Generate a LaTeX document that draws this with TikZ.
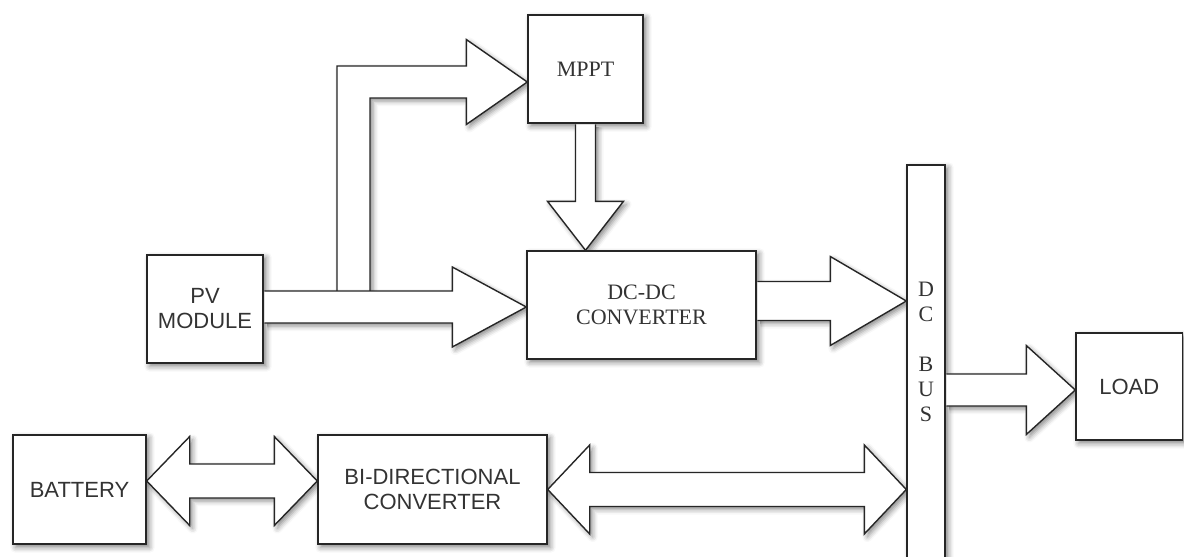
\documentclass[tikz,border=0pt]{standalone}
\usepackage{fontspec}
\setmainfont{Liberation Sans}
\newfontfamily\timesfont{Liberation Serif}
\usetikzlibrary{calc,backgrounds,shadows.blur}

\tikzset{
  soft shadow/.style={blur shadow={shadow xshift=1.5pt, shadow yshift=-1.5pt,
      shadow blur radius=2.5pt, shadow opacity=45}},
  box/.style={draw=black!85, line width=0.7pt, fill=white, text=black!80,
    font=\fontsize{11}{12.5}\selectfont, align=center, inner sep=0pt},
  timesbox/.style={font=\timesfont\fontsize{11}{12.5}\selectfont},
  fat/.style={draw=black!85, line width=0.7pt, fill=white, line join=miter, soft shadow},
  fat shaft/.store in=\fatshaft, fat shaft=8pt,
  fat wing/.store in=\fatwing, fat wing=22pt,
  fat head/.store in=\fathead, fat head=24pt,
  % hollow block arrows, open at the start end (kept clear of the box border)
  fat right/.style={to path={let \p1=(\tikztostart), \p2=(\tikztotarget) in
    ({\x1+0.35pt},{\y2+\fatshaft}) -- ({\x2-\fathead},{\y2+\fatshaft}) -- ({\x2-\fathead},{\y2+\fatwing})
    -- (\x2,\y2) -- ({\x2-\fathead},{\y2-\fatwing}) -- ({\x2-\fathead},{\y2-\fatshaft})
    -- ({\x1+0.35pt},{\y2-\fatshaft})}},
  fat down/.style={to path={let \p1=(\tikztostart), \p2=(\tikztotarget) in
    ({\x2-\fatshaft},{\y1-0.35pt}) -- ({\x2-\fatshaft},{\y2+\fathead}) -- ({\x2-\fatwing},{\y2+\fathead})
    -- (\x2,\y2) -- ({\x2+\fatwing},{\y2+\fathead}) -- ({\x2+\fatshaft},{\y2+\fathead})
    -- ({\x2+\fatshaft},{\y1-0.35pt})}},
  fat both/.style={to path={let \p1=(\tikztostart), \p2=(\tikztotarget) in
    (\x1,\y1) -- ({\x1+\fathead},{\y1+\fatwing}) -- ({\x1+\fathead},{\y1+\fatshaft})
    -- ({\x2-\fathead},{\y1+\fatshaft}) -- ({\x2-\fathead},{\y1+\fatwing}) -- (\x2,\y1)
    -- ({\x2-\fathead},{\y1-\fatwing}) -- ({\x2-\fathead},{\y1-\fatshaft})
    -- ({\x1+\fathead},{\y1-\fatshaft}) -- ({\x1+\fathead},{\y1-\fatwing}) -- cycle}},
}

\begin{document}
\begin{tikzpicture}[x=0.5pt, y=-0.5pt]
\useasboundingbox (0,0) rectangle (1184,557);

\node[box, timesbox, minimum width=57.5pt, minimum height=54pt] (mppt) at (585.5,69) {MPPT};
\node[box, minimum width=58pt, minimum height=54pt] (pv) at (205,309) {PV\\MODULE};
\node[box, timesbox, minimum width=114.5pt, minimum height=54pt] (dcdc) at (641.5,305) {DC-DC\\CONVERTER};
\node[box, minimum width=19pt, minimum height=207.5pt] (bus) at (926,372.5) {};
\node[timesbox, text=black!80, align=center, inner sep=0pt] (buslabel) at (926,352) {D\\C\\[12.5pt]B\\U\\S};
\node[box, minimum width=53.25pt, minimum height=53.5pt] (load) at (1129.25,386.5) {LOAD};
\node[box, minimum width=66.5pt, minimum height=54.5pt] (bat) at (79.5,489.5) {BATTERY};
\node[box, minimum width=114.5pt, minimum height=54.5pt] (bidir) at (432.5,489.5) {BI-DIRECTIONAL\\CONVERTER};

\begin{scope}[on background layer]
% shadows of the boxes go under everything
\foreach \b in {mppt,pv,dcdc,bus,load,bat,bidir}
  \path[soft shadow] (\b.south west) rectangle (\b.north east);

\coordinate (tap) at (353.5,291);
\coordinate (mpptin) at ($(mppt.west)+(0,13)$);
\draw[fat] ($(tap)+(-16.5,0)$) |- ($(mpptin)+(-61,-16)$) -- ($(mpptin)+(-61,-42.5)$)
  -- (mpptin) -- ($(mpptin)+(-61,42.5)$) -- ($(mpptin)+(-61,16)$) -| ($(tap)+(16.5,0)$);

\draw[fat, fat shaft=8pt, fat wing=20pt, fat head=37pt] (pv.east) to[fat right] ($(dcdc.west)+(0,2)$);
\draw[fat, fat shaft=5pt, fat wing=19pt, fat head=24.5pt] (mppt.south) to[fat down] (mppt.south |- dcdc.north);
\draw[fat, fat shaft=9.75pt, fat wing=22.25pt, fat head=38pt] (dcdc.east) to[fat right] ($(bus.west |- dcdc.east)+(0,-4)$);
\draw[fat, fat shaft=8pt, fat wing=22.25pt, fat head=24.5pt] (bus.east) to[fat right] ($(load.west)+(0,3.5)$);

\draw[fat, fat shaft=8.5pt, fat wing=22.25pt, fat head=21.5pt] ($(bat.east)+(0,-8.5)$) to[fat both] ($(bidir.west)+(0,-8.5)$);
\draw[fat, fat shaft=8.5pt, fat wing=22.25pt, fat head=21pt] (bidir.east) to[fat both] (bus.west |- bidir.east);
\end{scope}

\end{tikzpicture}
\end{document}
